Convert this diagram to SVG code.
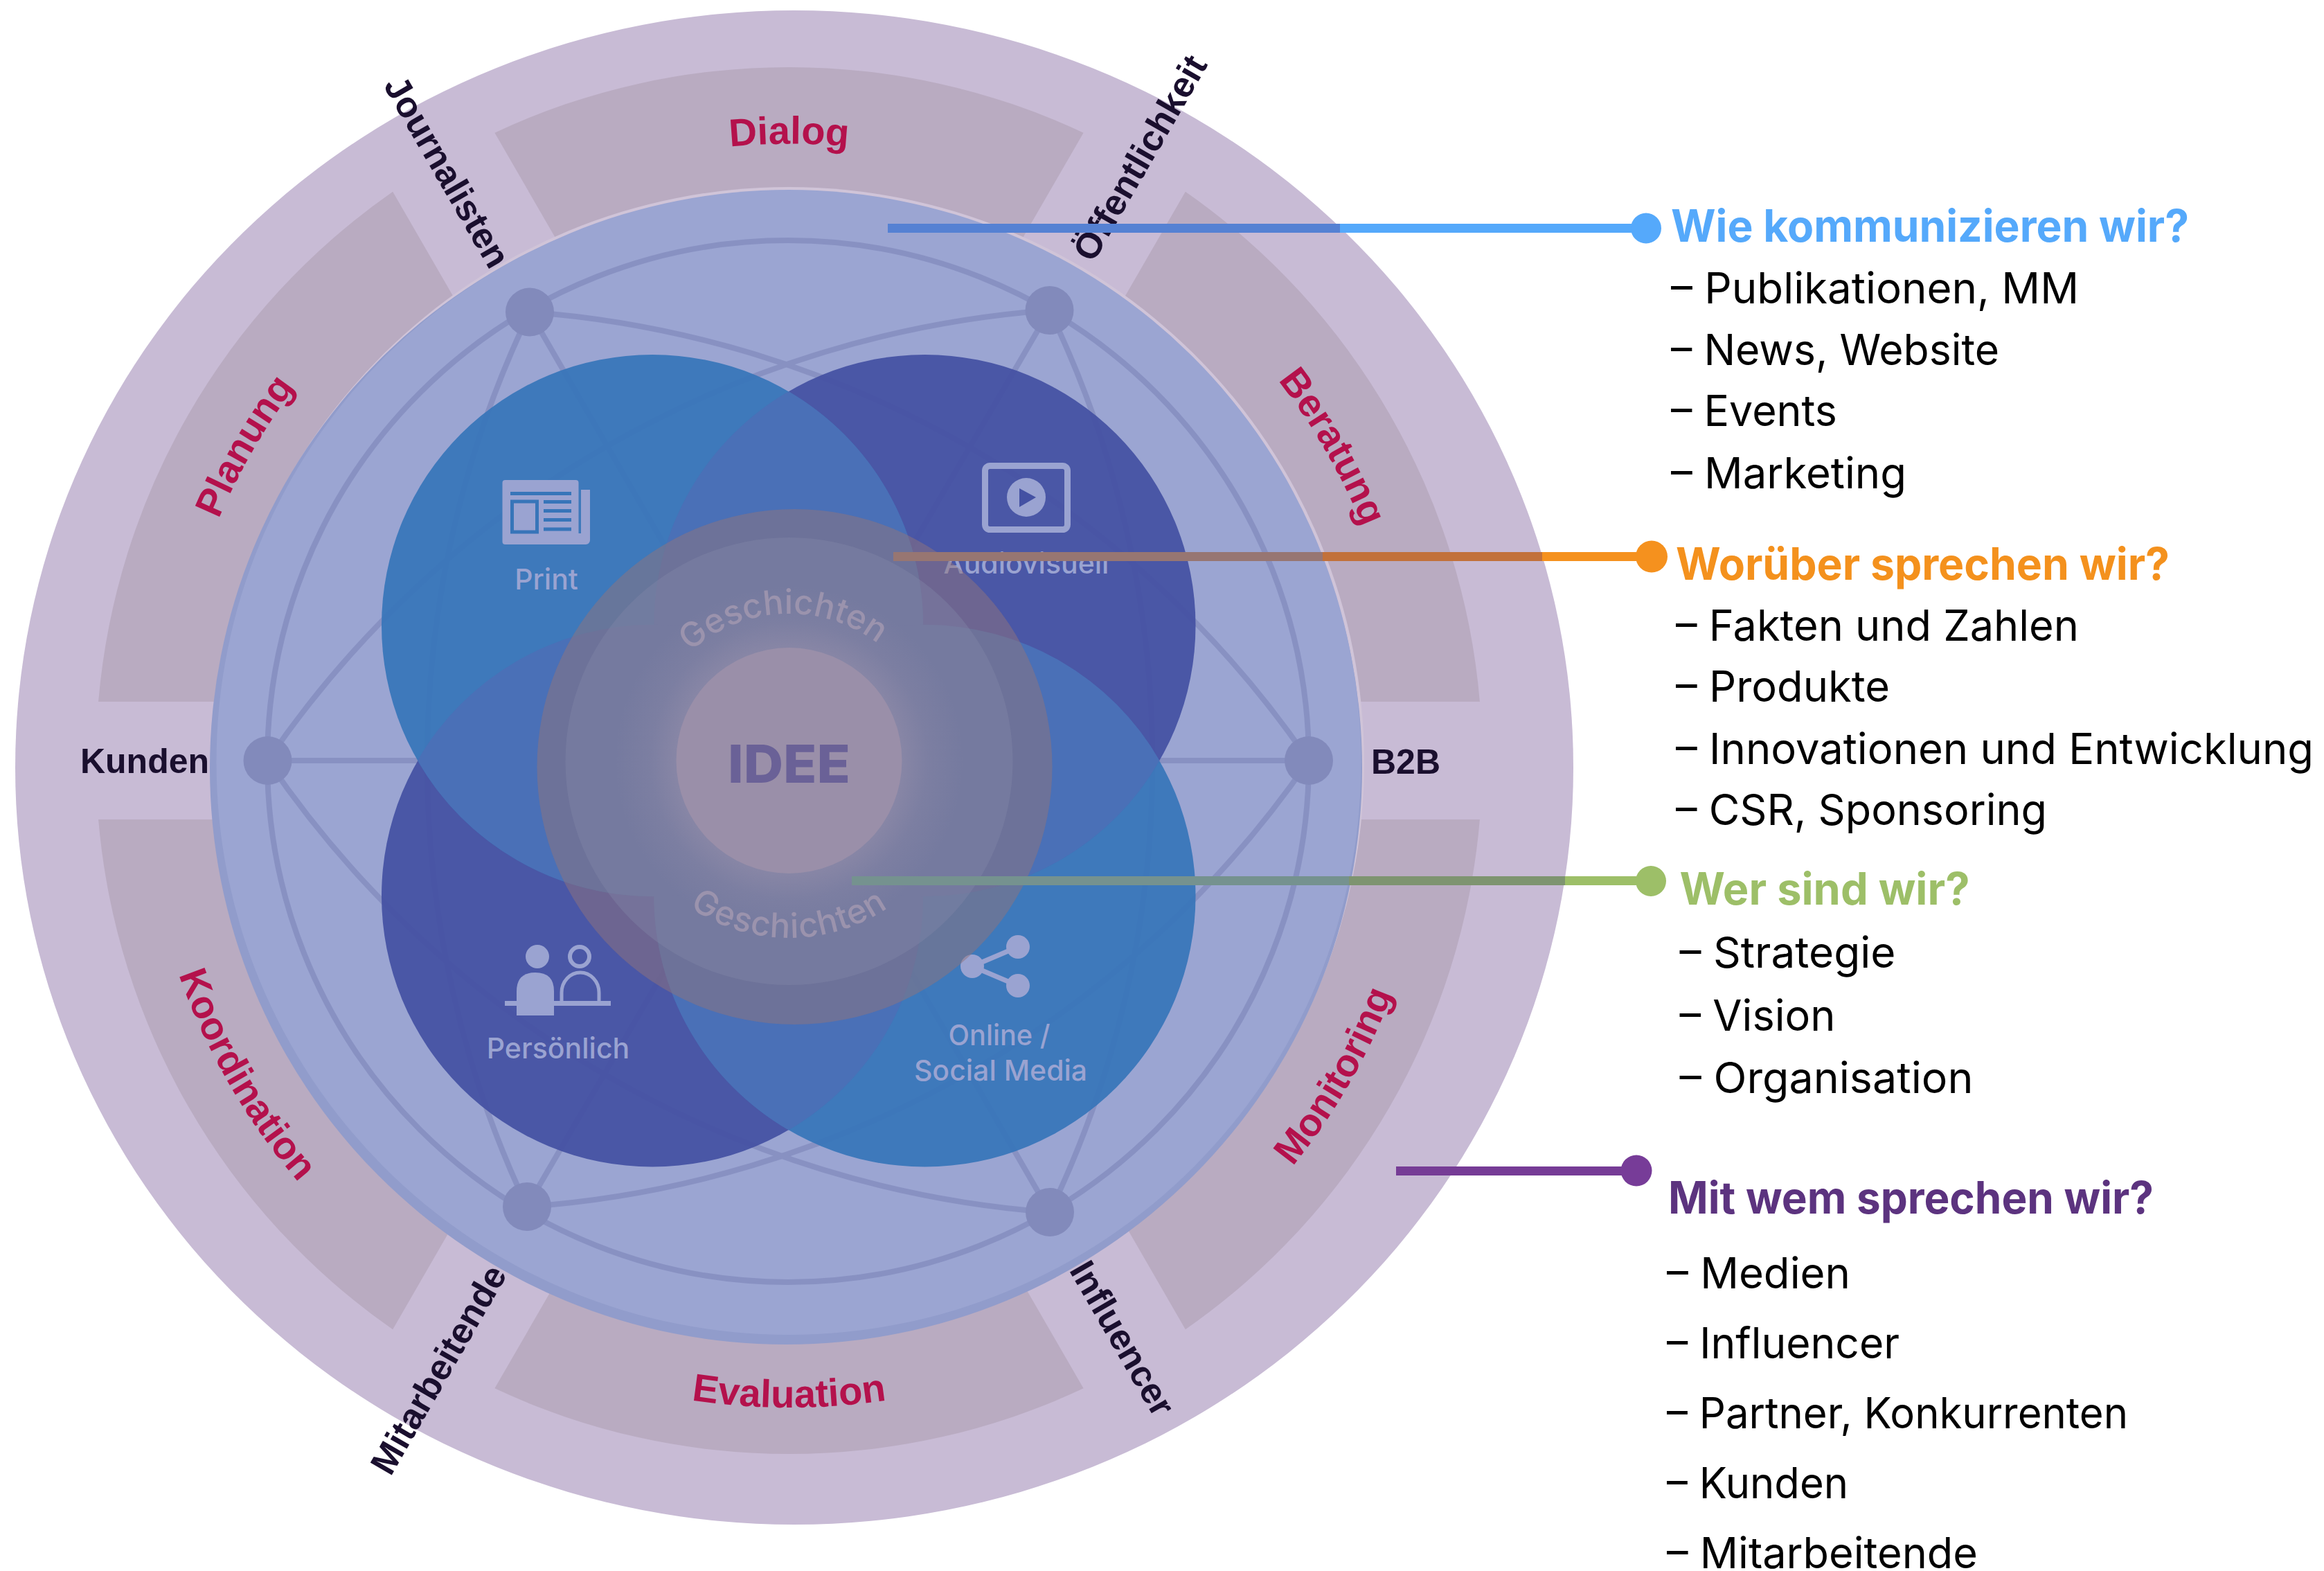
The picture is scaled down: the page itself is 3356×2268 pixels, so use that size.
<svg xmlns="http://www.w3.org/2000/svg" width="3356" height="2268" viewBox="0 0 3356 2268">
<style>
.seg{fill:#b9abc1}
.web{fill:none;stroke:#8891c2;stroke-width:8}
.node{fill:#828abb}
.blue{fill:#3775b9;fill-opacity:.93}
.dark{fill:#4451a3;fill-opacity:.93}
.lens{fill:#4b70b7;fill-opacity:.93}
.red{font-family:"Liberation Sans",Arial,sans-serif;font-weight:700;font-size:56px;fill:#b4114c;text-anchor:middle}
.aud{font-family:"Liberation Sans",Arial,sans-serif;font-weight:700;font-size:50px;fill:#1a0f2e;text-anchor:middle}
.aud2{font-size:52px}
.ico{fill:#9aa3d1}
.cap{font-family:Inter,"Liberation Sans",sans-serif;font-weight:500;font-size:41px;fill:#9aa3d1;text-anchor:middle}
.story{font-family:Inter,"Liberation Sans",sans-serif;font-weight:500;font-size:49px;fill:#9b93ad;text-anchor:middle}
.conn{stroke-width:13;fill:none}
.h{font-family:Inter,"Liberation Sans",sans-serif;font-weight:700;font-size:64px}
.i{font-family:Inter,"Liberation Sans",sans-serif;font-weight:400;font-size:62px;fill:#000}
</style>
<defs>
<path id="segment" d="M714.4,191.7 A1001 1001 0 0 1 1564.6,191.7 L1463.6,366.6 A800 800 0 0 0 815.4,366.6 Z"/>
<path id="arcTop" d="M692.5,323.7 A892 892 0 0 1 1586.5,323.7"/>
<path id="arcBot" d="M672.5,1906.8 A934 934 0 0 0 1606.5,1906.8"/>
<path id="geoTop" d="M955.9,992 A212 212 0 0 1 1323.1,992"/>
<path id="geoBot" d="M958.5,1279 A256 256 0 0 0 1320.5,1279"/>
<radialGradient id="glow" gradientUnits="userSpaceOnUse" cx="1139.5" cy="1098" r="323">
<stop offset=".5" stop-color="#b0a0b4" stop-opacity=".32"/>
<stop offset=".62" stop-color="#b0a0b4" stop-opacity=".12"/>
<stop offset=".78" stop-color="#b0a0b4" stop-opacity="0"/>
</radialGradient>
<linearGradient id="gBlue" gradientUnits="userSpaceOnUse" x1="1282" y1="0" x2="2377" y2="0">
<stop offset=".5963" stop-color="#5581d3"/><stop offset=".5963" stop-color="#55a9fb"/>
</linearGradient>
<linearGradient id="gOrange" gradientUnits="userSpaceOnUse" x1="1290" y1="0" x2="2385" y2="0">
<stop offset=".5662" stop-color="#977672"/><stop offset=".5662" stop-color="#c2713a"/>
<stop offset=".8557" stop-color="#c2713a"/><stop offset=".8557" stop-color="#f5911e"/>
</linearGradient>
<linearGradient id="gGreen" gradientUnits="userSpaceOnUse" x1="1230" y1="0" x2="2384" y2="0">
<stop offset=".6218" stop-color="#75928f"/><stop offset=".6218" stop-color="#7e9470"/>
<stop offset=".8925" stop-color="#7e9470"/><stop offset=".8925" stop-color="#9dbf68"/>
</linearGradient>
</defs>
<rect width="3356" height="2268" fill="#fff"/>

<g id="outer-ring"><ellipse cx="1147" cy="1108" rx="1125" ry="1093" fill="#c8bbd5"/></g>
<g id="segments">
<use href="#segment" class="seg"/>
<use href="#segment" class="seg" transform="rotate(60 1139.5 1098)"/>
<use href="#segment" class="seg" transform="rotate(120 1139.5 1098)"/>
<use href="#segment" class="seg" transform="rotate(180 1139.5 1098)"/>
<use href="#segment" class="seg" transform="rotate(240 1139.5 1098)"/>
<use href="#segment" class="seg" transform="rotate(300 1139.5 1098)"/>
</g>
<g id="segment-labels">
<text class="red" transform="translate(0 4)"><textPath href="#arcTop" startOffset="50%">Dialog</textPath></text>
<text class="red" transform="rotate(60 1139.5 1098)"><textPath href="#arcTop" startOffset="50%">Beratung</textPath></text>
<text class="red" transform="rotate(-60 1139.5 1098)"><textPath href="#arcTop" startOffset="50%">Planung</textPath></text>
<text class="red"><textPath href="#arcBot" startOffset="50%">Evaluation</textPath></text>
<text class="red" transform="rotate(60 1139.5 1098)"><textPath href="#arcBot" startOffset="50%">Koordination</textPath></text>
<text class="red" transform="rotate(-60 1139.5 1098)"><textPath href="#arcBot" startOffset="50%">Monitoring</textPath></text>
</g>
<g id="audience-labels">
<text class="aud" x="209" y="1116">Kunden</text>
<text class="aud" x="2030" y="1117">B2B</text>
<text class="aud aud2" transform="translate(646 248) rotate(60)" y="18">Journalisten</text>
<text class="aud aud2" transform="translate(1646 228) rotate(-60)" y="18">Öffentlichkeit</text>
<text class="aud aud2" transform="translate(633 1977) rotate(-60)" y="18">Mitarbeitende</text>
<text class="aud aud2" transform="translate(1621 1932) rotate(60)" y="18">Influencer</text>
</g>

<g id="disc">
<circle cx="1139" cy="1101" r="831" fill="#d0c4d8"/>
<circle cx="1135" cy="1109" r="832" fill="#919ccb"/>
<circle cx="1139" cy="1100.5" r="826.5" fill="#9ba5d2"/>
</g>
<g id="web">
<circle class="web" cx="1138" cy="1099" r="752"/>
<path class="web" d="M386.5,1098H1890M765,450.5L1516,1750M1515.5,448L761,1742"/>
<path class="web" d="M765,450.5A1500 1500 0 0 1 1890,1098A1500 1500 0 0 1 761,1742A1500 1500 0 0 1 765,450.5"/>
<path class="web" d="M386.5,1098A1500 1500 0 0 1 1515.5,448A1500 1500 0 0 1 1516,1750A1500 1500 0 0 1 386.5,1098"/>
</g>
<g id="node-journalisten"><circle class="node" cx="765" cy="450.5" r="35"/></g>
<g id="node-oeffentlichkeit"><circle class="node" cx="1515.5" cy="448" r="35"/></g>
<g id="node-kunden"><circle class="node" cx="386.5" cy="1098" r="35"/></g>
<g id="node-b2b"><circle class="node" cx="1890" cy="1098" r="35"/></g>
<g id="node-mitarbeitende"><circle class="node" cx="761" cy="1742" r="35"/></g>
<g id="node-influencer"><circle class="node" cx="1516" cy="1750" r="35"/></g>

<g id="channels">
<circle class="dark" cx="1335.5" cy="903" r="391"/>
<circle class="dark" cx="942" cy="1293.5" r="391"/>
<circle class="blue" cx="942" cy="903" r="391"/>
<circle class="blue" cx="1335.5" cy="1293.5" r="391"/>
<path class="lens" d="M1138.7,565 A391 391 0 0 1 1138.7,1241 A391 391 0 0 1 1138.7,565Z"/>
<path class="lens" d="M1138.7,955.5 A391 391 0 0 1 1138.7,1631.5 A391 391 0 0 1 1138.7,955.5Z"/>
<path class="lens" d="M603,1098 A391 391 0 0 1 1281,1098 A391 391 0 0 1 603,1098Z"/>
<path class="lens" d="M996.5,1098 A391 391 0 0 1 1674.5,1098 A391 391 0 0 1 996.5,1098Z"/>
</g>
<g id="channel-print">
<rect class="ico" x="725.5" y="693" width="110" height="93" rx="4"/>
<path class="ico" d="M835,707H852V780a6 6 0 0 1-6 6H830V770H839V707Z"/>
<rect x="737" y="710" width="88" height="5" fill="#3775b9"/>
<rect x="739.5" y="724" width="36" height="44" fill="none" stroke="#3775b9" stroke-width="5"/>
<path d="M785,724.5H825M785,737.5H825M785,750.5H825M785,764H825" stroke="#3775b9" stroke-width="5"/>
<text class="cap" x="789" y="851">Print</text>
</g>
<g id="channel-audiovisuell">
<rect x="1422.5" y="672.5" width="119" height="92" rx="7" fill="none" stroke="#9aa3d1" stroke-width="9"/>
<circle class="ico" cx="1482" cy="718" r="28"/>
<path d="M1472,705V732L1496,718Z" fill="#4451a3"/>
<text class="cap" x="1482" y="828">Audiovisuell</text>
</g>
<g id="channel-persoenlich">
<circle class="ico" cx="776" cy="1381" r="17"/>
<path class="ico" d="M746,1466V1431Q746,1404 773,1404Q800,1404 800,1431V1466Z"/>
<rect class="ico" x="729" y="1445" width="153" height="7"/>
<circle cx="837" cy="1381" r="14" fill="none" stroke="#9aa3d1" stroke-width="6"/>
<path d="M811,1447V1433A27 29 0 0 1 865,1433V1447" fill="none" stroke="#9aa3d1" stroke-width="5"/>
<text class="cap" x="806" y="1528">Persönlich</text>
</g>
<g id="channel-online">
<path d="M1470,1367L1404,1395L1470,1423" fill="none" stroke="#9aa3d1" stroke-width="7"/>
<circle class="ico" cx="1404" cy="1395" r="17"/>
<circle class="ico" cx="1470" cy="1367" r="17"/>
<circle class="ico" cx="1470" cy="1423" r="17"/>
<text class="cap" x="1443" y="1509" textLength="147" lengthAdjust="spacingAndGlyphs">Online /</text>
<text class="cap" x="1445" y="1560">Social Media</text>
</g>

<g id="core">
<circle cx="1147.5" cy="1107" r="372" fill="#8f747b" fill-opacity=".5"/>
<circle cx="1139.5" cy="1099" r="323" fill="#8388a8" fill-opacity=".4"/>
<circle cx="1139.5" cy="1098" r="323" fill="url(#glow)"/>
<text class="story" transform="rotate(-2.5 1139.5 1098)"><textPath href="#geoTop" startOffset="50%">Geschichten</textPath></text>
<text class="story" letter-spacing="1"><textPath href="#geoBot" startOffset="50%">Geschichten</textPath></text>
<circle cx="1139.5" cy="1098" r="163" fill="#9a8fa9"/>
<text x="1139.5" y="1130" font-family="Inter, Liberation Sans, sans-serif" font-weight="800" font-size="76" fill="#6a6197" text-anchor="middle" textLength="177" lengthAdjust="spacingAndGlyphs">IDEE</text>
</g>

<g id="connectors">
<line class="conn" x1="1282" y1="329.5" x2="2377" y2="329.5" stroke="url(#gBlue)"/>
<circle cx="2377" cy="329.5" r="22" fill="#55a9fb"/>
<line class="conn" x1="1290" y1="803.5" x2="2385" y2="803.5" stroke="url(#gOrange)"/>
<circle cx="2385" cy="803.5" r="23" fill="#f5911e"/>
<line class="conn" x1="1230" y1="1271.5" x2="2384" y2="1271.5" stroke="url(#gGreen)"/>
<circle cx="2384" cy="1272" r="22" fill="#9dbf68"/>
<line class="conn" x1="2016" y1="1690.5" x2="2363" y2="1690.5" stroke="#763c96"/>
<circle cx="2363" cy="1690" r="22.5" fill="#773c98"/>
</g>

<g id="list-wie">
<text class="h" x="2413" y="349" textLength="748" lengthAdjust="spacingAndGlyphs" fill="#55a9fb">Wie kommunizieren wir?</text>
<text class="i" x="2413" y="438" textLength="589" lengthAdjust="spacingAndGlyphs">– Publikationen, MM</text>
<text class="i" x="2413" y="527" textLength="474" lengthAdjust="spacingAndGlyphs">– News, Website</text>
<text class="i" x="2413" y="615" textLength="240" lengthAdjust="spacingAndGlyphs">– Events</text>
<text class="i" x="2413" y="705" textLength="340" lengthAdjust="spacingAndGlyphs">– Marketing</text>
</g>
<g id="list-woruber">
<text class="h" x="2420" y="837" textLength="713" lengthAdjust="spacingAndGlyphs" fill="#f4911d">Worüber sprechen wir?</text>
<text class="i" x="2420" y="925" textLength="582" lengthAdjust="spacingAndGlyphs">– Fakten und Zahlen</text>
<text class="i" x="2420" y="1013" textLength="309" lengthAdjust="spacingAndGlyphs">– Produkte</text>
<text class="i" x="2420" y="1103" textLength="921" lengthAdjust="spacingAndGlyphs">– Innovationen und Entwicklung</text>
<text class="i" x="2420" y="1191" textLength="536" lengthAdjust="spacingAndGlyphs">– CSR, Sponsoring</text>
</g>
<g id="list-wer">
<text class="h" x="2425.5" y="1306" textLength="419" lengthAdjust="spacingAndGlyphs" fill="#9dbf68">Wer sind wir?</text>
<text class="i" x="2425.5" y="1397" textLength="312" lengthAdjust="spacingAndGlyphs">– Strategie</text>
<text class="i" x="2425.5" y="1488" textLength="225" lengthAdjust="spacingAndGlyphs">– Vision</text>
<text class="i" x="2425.5" y="1578" textLength="424" lengthAdjust="spacingAndGlyphs">– Organisation</text>
</g>
<g id="list-mit">
<text class="h" x="2409" y="1752" textLength="701" lengthAdjust="spacingAndGlyphs" fill="#5c337f">Mit wem sprechen wir?</text>
<text class="i" x="2407" y="1860" textLength="265" lengthAdjust="spacingAndGlyphs">– Medien</text>
<text class="i" x="2407" y="1961" textLength="336" lengthAdjust="spacingAndGlyphs">– Influencer</text>
<text class="i" x="2407" y="2062" textLength="666" lengthAdjust="spacingAndGlyphs">– Partner, Konkurrenten</text>
<text class="i" x="2407" y="2163" textLength="262" lengthAdjust="spacingAndGlyphs">– Kunden</text>
<text class="i" x="2407" y="2264" textLength="449" lengthAdjust="spacingAndGlyphs">– Mitarbeitende</text>
</g>
</svg>
